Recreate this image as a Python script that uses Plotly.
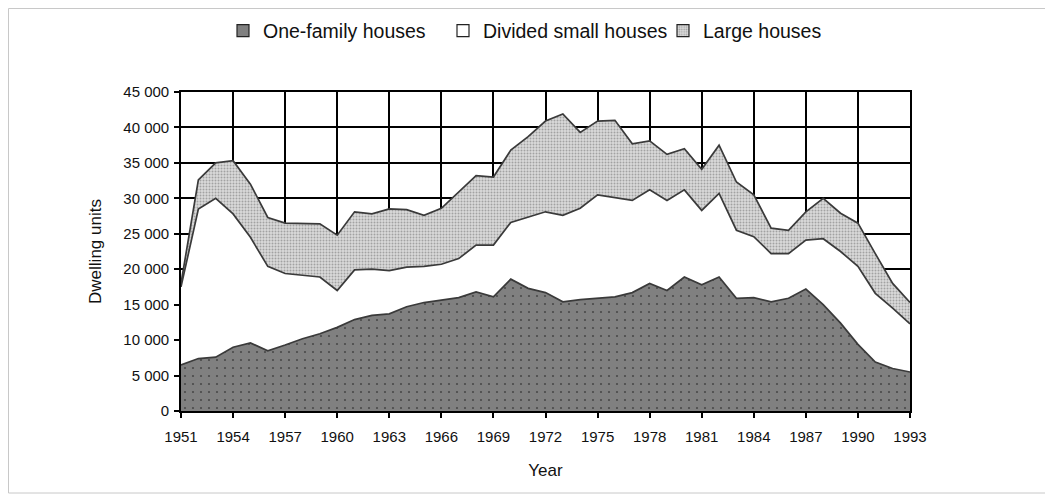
import plotly.graph_objects as go

years = list(range(1951, 1994))

one_family = [6500, 7400, 7600, 9000, 9600, 8500, 9300, 10200, 10900, 11800,
              12900, 13500, 13700, 14700, 15300, 15600, 16000, 16800, 16100, 18600,
              17300, 16700, 15400, 15700, 15900, 16100, 16700, 18000, 17000, 18900,
              17800, 18900, 15900, 16000, 15400, 15900, 17200, 15000, 12400, 9400,
              6900, 6000, 5500]

divided_small = [11000, 21100, 22400, 18800, 14900, 11900, 10100, 9000, 8000, 5200,
                 7000, 6500, 6100, 5600, 5100, 5100, 5500, 6600, 7300, 8000,
                 10100, 11400, 12200, 12900, 14600, 14000, 13000, 13200, 12700, 12300,
                 10500, 11800, 9600, 8600, 6800, 6300, 6900, 9300, 10100, 11000,
                 9700, 8500, 6800]

large = [500, 4100, 5000, 7500, 7500, 6900, 7100, 7200, 7500, 7800,
         8200, 7800, 8700, 8100, 7200, 7900, 9400, 9800, 9600, 10200,
         11300, 12800, 14300, 10700, 10400, 10900, 8000, 6900, 6500, 5800,
         5800, 6800, 6800, 5900, 3600, 3300, 4000, 5700, 5400, 6100,
         5600, 3500, 3000]

series_names = ["One-family houses", "Divided small houses", "Large houses"]
x_ticks = list(range(1951, 1994, 3))
y_ticks = list(range(0, 45001, 5000))
y_tick_text = ["0" if v == 0 else f"{v // 1000} 000" for v in y_ticks]

FONT = "Liberation Sans, Arial, sans-serif"

of_pattern = dict(shape=".", fgcolor="#111111", bgcolor="#808080", size=8, solidity=0.06)
lg_pattern = dict(shape=".", fgcolor="#6a6a6a", bgcolor="#dadada", size=3, solidity=0.35)

fig = go.Figure()
# stacked areas
fig.add_trace(go.Scatter(
    x=years, y=one_family, name=series_names[0], stackgroup="s", mode="lines",
    line=dict(color="#3a3a3a", width=1.7), fillcolor="#808080",
    fillpattern=of_pattern, showlegend=False,
))
fig.add_trace(go.Scatter(
    x=years, y=divided_small, name=series_names[1], stackgroup="s", mode="lines",
    line=dict(color="#3a3a3a", width=1.7), fillcolor="#ffffff", showlegend=False,
))
fig.add_trace(go.Scatter(
    x=years, y=large, name=series_names[2], stackgroup="s", mode="lines",
    line=dict(color="#3a3a3a", width=1.7), fillcolor="#d6d6d6",
    fillpattern=lg_pattern, showlegend=False,
))

# legend boxes
fig.add_trace(go.Bar(x=[None], y=[None], name=series_names[0],
                     marker=dict(color="#808080", line=dict(color="#222222", width=1.2))))
fig.add_trace(go.Bar(x=[None], y=[None], name=series_names[1],
                     marker=dict(color="#ffffff", line=dict(color="#222222", width=1.2))))
fig.add_trace(go.Bar(x=[None], y=[None], name=series_names[2],
                     marker=dict(color="#d6d6d6", pattern=lg_pattern,
                                 line=dict(color="#222222", width=1.2))))

W, H = 1045, 489
L, T, R, B = 173, 84, 143, 86
PW, PH = W - L - R, H - T - B

fig.update_layout(
    width=W, height=H,
    margin=dict(l=L, r=R, t=T, b=B, autoexpand=False),
    paper_bgcolor="white", plot_bgcolor="white",
    font=dict(family=FONT, color="#111111", size=15),
    showlegend=True,
    legend=dict(
        orientation="h", xref="container", x=(223 - 8) / W, xanchor="left",
        yref="container", y=1 - 23 / H, yanchor="middle",
        font=dict(size=19.5, family=FONT), traceorder="normal",
        entrywidth=175, entrywidthmode="pixels",
        bgcolor="rgba(0,0,0,0)", itemclick=False,
    ),
    xaxis=dict(
        range=[1951, 1993], tickvals=x_ticks, ticktext=[str(v) for v in x_ticks],
        showgrid=True, gridcolor="#000000", gridwidth=1.6,
        showline=True, linecolor="#000000", linewidth=1.6, mirror=True,
        ticks="outside", ticklen=5, tickcolor="#000000", tickwidth=1.6,
        tickfont=dict(size=15), zeroline=False, ticklabelstandoff=6,
        title=dict(text="Year", font=dict(size=17), standoff=20),
    ),
    yaxis=dict(
        range=[0, 45000], tickvals=y_ticks, ticktext=y_tick_text,
        showgrid=True, gridcolor="#000000", gridwidth=1.6,
        showline=True, linecolor="#000000", linewidth=1.6, mirror=True,
        ticks="outside", ticklen=5, tickcolor="#000000", tickwidth=1.6,
        tickfont=dict(size=15), zeroline=False, ticklabelstandoff=2,
        title=dict(text="Dwelling units", font=dict(size=17), standoff=17),
    ),
)

# light outer frame around the whole chart
fig.add_shape(type="rect", xref="paper", yref="paper",
              x0=(0.5 - L) / PW, x1=(W - 6 - L) / PW,
              y0=1 - (H - T - 4) / PH, y1=1 + (T - 0.5) / PH,
              line=dict(color="#c8c8c8", width=1), fillcolor="rgba(0,0,0,0)", layer="below")

fig.write_html("out.html")
